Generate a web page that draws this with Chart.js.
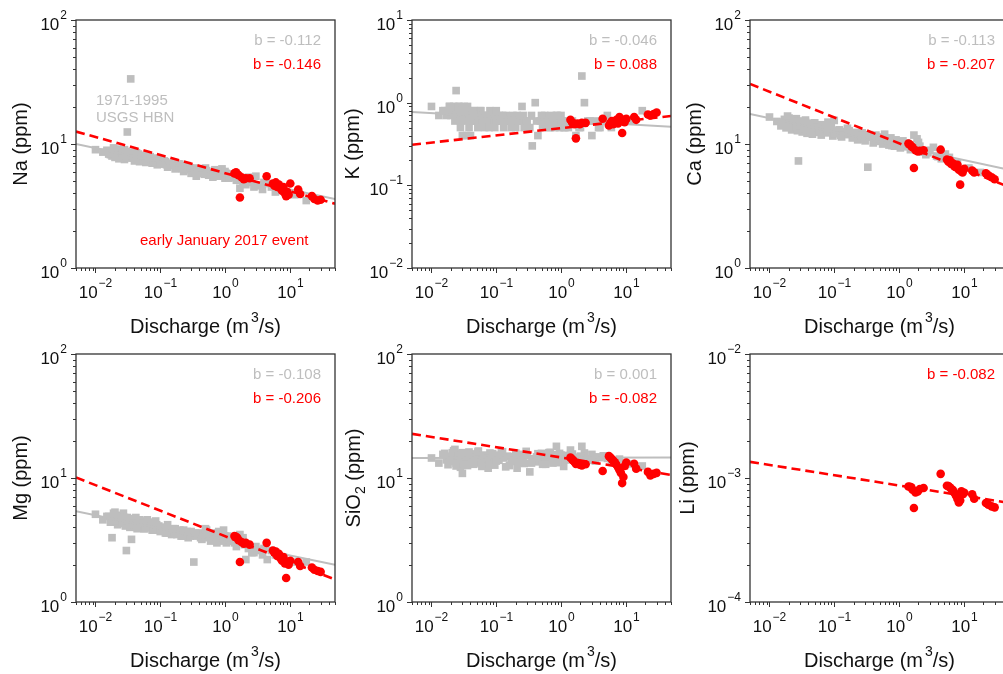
<!DOCTYPE html>
<html>
<head>
<meta charset="utf-8">
<script src="https://cdn.jsdelivr.net/npm/chart.js@4.4.1/dist/chart.umd.min.js"></script>
<style>
html, body { margin: 0; padding: 0; background: #fff; overflow: hidden; }
#wrap { position: relative; width: 1003px; height: 674px; overflow: hidden; }
#wrap canvas { position: absolute; }
</style>
</head>
<body>
<div id="wrap">
  <canvas id="c-na"   width="336" height="340" style="left:0px;top:0px;width:336px;height:340px"></canvas>
  <canvas id="c-k"    width="336" height="340" style="left:336px;top:0px;width:336px;height:340px"></canvas>
  <canvas id="c-ca"   width="336" height="340" style="left:674px;top:0px;width:336px;height:340px"></canvas>
  <canvas id="c-mg"   width="336" height="340" style="left:0px;top:334px;width:336px;height:340px"></canvas>
  <canvas id="c-sio2" width="336" height="340" style="left:336px;top:334px;width:336px;height:340px"></canvas>
  <canvas id="c-li"   width="336" height="340" style="left:674px;top:334px;width:336px;height:340px"></canvas>
</div>
<script>
// --- data -----------------------------------------------------------------

// 1971-1995 USGS HBN samples: discharge (m3/s)
const grayQ = [
  0.010, 0.013, 0.015, 0.017, 0.018, 0.019, 0.020, 0.021, 0.022, 0.023,
  0.024, 0.025, 0.026, 0.027, 0.028, 0.029, 0.030, 0.031, 0.032, 0.034,
  0.035, 0.036, 0.038, 0.040, 0.042, 0.044, 0.046, 0.048, 0.050, 0.053,
  0.056, 0.060, 0.063, 0.066, 0.070, 0.075, 0.080, 0.085, 0.090, 0.095,
  0.10, 0.11, 0.12, 0.13, 0.14, 0.15, 0.17, 0.19, 0.21, 0.23,
  0.25, 0.27, 0.30, 0.33, 0.36, 0.40, 0.44, 0.48, 0.52, 0.56,
  0.60, 0.65, 0.70, 0.75, 0.80, 0.85, 0.90, 0.95, 1.00, 1.05,
  1.10, 1.20, 1.30, 1.50, 1.70, 1.90, 2.10, 2.30, 2.60, 3.00,
  3.40, 3.80, 4.50, 5.20, 6.00, 8.00, 12.0, 18.0,
  // second pass through the dense part of the cloud
  0.016, 0.019, 0.022, 0.024, 0.026, 0.028, 0.030, 0.033, 0.036, 0.039,
  0.043, 0.047, 0.052, 0.058, 0.064, 0.072, 0.078, 0.088, 0.10, 0.115,
  0.125, 0.16, 0.18, 0.20, 0.22, 0.26, 0.29, 0.35, 0.42, 0.50,
  0.58, 0.68, 0.78, 0.88, 1.0, 1.15, 1.4, 2.0, 2.8, 4.0
];
const naGray = [
  9.0, 8.6, 8.9, 8.2, 8.0, 8.7, 7.8, 8.4, 9.1, 7.6,
  8.3, 8.8, 7.9, 8.5, 7.5, 8.1, 8.7, 12.5, 7.7, 8.2,
  33.5, 7.9, 8.4, 7.3, 8.0, 7.6, 8.3, 7.2, 7.8, 7.4,
  8.0, 7.1, 7.6, 7.3, 7.9, 7.0, 7.5, 7.2, 6.8, 7.6,
  7.4, 6.9, 7.2, 6.5, 7.0, 6.7, 6.3, 6.9, 6.4, 6.0,
  6.6, 6.2, 5.8, 6.4, 5.5, 6.0, 6.3, 5.7, 6.1, 5.6,
  5.9, 5.4, 6.2, 5.7, 5.5, 5.9, 6.3, 5.6, 5.3, 5.8,
  5.5, 5.7, 5.4, 5.1, 4.4, 5.0, 4.7, 5.4, 4.9, 5.5,
  4.6, 4.3, 4.8, 4.5, 4.1, 4.2, 3.9, 3.5,
  8.3, 9.3, 8.0, 8.9, 8.4, 9.0, 7.8, 8.6, 8.1, 7.7,
  8.5, 7.5, 8.1, 7.7, 7.2, 7.6, 7.3, 7.7, 6.9, 7.3,
  6.8, 7.1, 6.6, 6.9, 6.3, 6.7, 6.4, 6.1, 5.8, 6.4,
  5.9, 5.7, 6.0, 5.5, 6.0, 5.3, 5.6, 5.2, 4.5, 4.9
];
const kGray = [
  0.9, 0.7, 0.8, 0.7, 0.8, 0.9, 0.7, 0.8, 0.9, 0.6,
  1.4, 0.8, 0.7, 0.9, 0.5, 0.8, 0.4, 0.6, 0.9, 0.7,
  0.4, 0.8, 0.5, 0.4, 0.7, 0.6, 0.8, 0.7, 0.6, 0.7,
  0.8, 0.6, 0.7, 0.5, 0.7, 0.6, 0.8, 0.6, 0.7, 0.5,
  0.6, 0.7, 0.6, 0.5, 0.7, 0.6, 0.5, 0.6, 0.7, 0.6,
  0.9, 0.5, 0.6, 0.5, 0.3, 1.0, 0.4, 0.6, 0.5, 0.7,
  0.6, 0.5, 0.7, 0.6, 0.5, 0.7, 0.6, 0.5, 0.7, 0.6,
  0.5, 0.6, 0.5, 0.6, 0.4, 0.5, 2.1, 1.0, 0.6, 0.4,
  0.6, 0.5, 0.6, 0.7, 0.5, 0.6, 0.6, 0.8,
  0.8, 0.9, 0.8, 0.7, 0.9, 0.6, 0.8, 0.7, 0.9, 0.6,
  0.8, 0.7, 0.5, 0.8, 0.7, 0.6, 0.5, 0.7, 0.8, 0.6,
  0.7, 0.6, 0.7, 0.5, 0.6, 0.7, 0.6, 0.7, 0.6, 0.7,
  0.6, 0.5, 0.6, 0.7, 0.6, 0.5, 0.6, 0.5, 0.6, 0.5
];
const caGray = [
  16.5, 15.2, 14.0, 15.8, 13.5, 14.8, 16.2, 14.2, 13.0, 15.5,
  14.5, 13.8, 16.0, 12.8, 7.3, 14.9, 13.6, 15.3, 12.5, 14.1,
  13.2, 15.0, 12.2, 14.4, 13.0, 14.6, 12.0, 13.7, 14.8, 12.6,
  13.4, 14.2, 11.8, 13.1, 14.0, 12.3, 15.0, 12.9, 13.6, 11.6,
  15.5, 12.1, 13.0, 11.4, 12.6, 11.9, 12.8, 11.2, 12.0, 10.8,
  11.5, 12.3, 10.6, 6.5, 11.4, 10.2, 11.8, 10.5, 11.0, 10.0,
  12.0, 10.7, 9.8, 11.2, 10.3, 9.6, 10.8, 9.9, 10.4, 9.3,
  10.0, 9.5, 10.2, 9.0, 11.8, 11.0, 9.6, 8.6, 8.2, 8.9,
  9.4, 8.0, 7.6, 8.3, 7.8, 7.0, 6.4, 5.9,
  15.0, 16.8, 14.3, 15.9, 13.9, 15.2, 14.0, 13.3, 15.6, 13.9,
  12.9, 14.7, 13.6, 12.4, 14.3, 13.2, 12.7, 13.8, 12.2, 12.9,
  11.7, 13.4, 12.3, 11.3, 12.4, 11.7, 10.9, 11.9, 10.8, 11.4,
  10.1, 10.9, 9.7, 10.5, 9.8, 10.6, 9.6, 10.3, 8.5, 7.9
];
const mgGray = [
  5.1, 4.6, 4.9, 4.4, 3.3, 4.8, 5.3, 4.5, 4.2, 5.0,
  4.7, 4.3, 4.9, 5.2, 4.6, 4.1, 2.6, 4.8, 4.4, 4.0,
  4.7, 3.2, 4.5, 4.2, 4.8, 3.9, 4.4, 4.6, 4.1, 4.5,
  3.9, 4.3, 4.6, 4.0, 4.4, 3.8, 4.2, 4.5, 3.9, 4.1,
  3.7, 4.0, 3.6, 4.2, 3.8, 3.5, 3.9, 3.6, 3.4, 3.8,
  3.5, 3.3, 3.7, 2.1, 3.4, 3.6, 3.2, 3.5, 3.8, 3.3,
  3.1, 3.6, 3.4, 3.0, 3.7, 3.2, 3.5, 3.8, 3.3, 3.0,
  3.4, 3.1, 3.2, 2.8, 3.5, 3.3, 2.2, 2.7, 2.5, 2.8,
  2.6, 2.4, 2.2, 2.6, 2.4, 2.3, 2.1, 2.1,
  4.9, 5.2, 4.5, 4.9, 4.4, 4.8, 4.5, 4.2, 4.6, 4.3,
  4.0, 4.6, 4.3, 3.9, 4.4, 4.1, 3.8, 4.2, 3.8, 4.0,
  3.6, 3.9, 3.5, 3.8, 3.4, 3.7, 3.4, 3.6, 3.3, 3.9,
  3.4, 3.2, 3.6, 3.1, 3.4, 3.2, 3.0, 2.9, 2.5, 2.7
];
const sio2Gray = [
  14.5, 13.2, 15.5, 14.0, 12.8, 15.0, 13.6, 16.0, 14.3, 17.0,
  12.5, 15.2, 13.8, 14.8, 12.2, 15.8, 10.9, 14.1, 13.0, 15.4,
  14.6, 12.6, 16.2, 13.5, 14.9, 12.9, 15.6, 14.0, 13.3, 16.5,
  14.4, 12.4, 15.1, 13.7, 14.7, 12.0, 15.9, 13.4, 14.2, 12.7,
  15.3, 13.9, 16.1, 14.5, 12.3, 15.0, 13.6, 14.8, 12.0, 15.5,
  14.0, 13.1, 15.2, 11.2, 14.3, 13.5, 15.7, 14.1, 12.9, 15.0,
  13.8, 16.0, 14.6, 13.2, 15.4, 18.0, 14.2, 15.8, 13.6, 14.9,
  12.4, 15.2, 14.0, 15.6, 13.4, 14.7, 18.0, 15.9, 14.3, 15.5,
  13.7, 14.8, 15.1, 14.4, 13.8, 14.2, 13.0, 12.5,
  15.8, 13.9, 16.6, 13.1, 15.1, 14.2, 16.0, 12.9, 14.9, 15.7,
  13.4, 14.6, 16.2, 13.0, 15.3, 14.4, 12.8, 15.7, 13.7, 14.9,
  16.3, 12.6, 14.8, 15.9, 13.5, 14.6, 16.4, 13.2, 14.8, 15.8,
  12.9, 16.1, 14.5, 13.3, 15.3, 14.1, 16.8, 15.0, 13.9, 14.6
];

// early January 2017 event samples
const eventQ = [
  1.40, 1.48, 1.55, 1.62, 1.70, 1.80, 1.95, 2.10, 2.40, 4.40,
  5.50, 5.80, 6.10, 6.40, 6.80, 7.20, 7.60, 8.00, 8.40, 8.80,
  9.20, 9.60, 10.2, 13.5, 14.5, 22.0, 24.0, 27.0, 30.0
];
const naEvent = [5.8, 5.9, 5.7, 5.6, 3.7, 5.4, 5.2, 5.3, 5.3, 5.5, 4.8, 4.6, 4.9, 4.5, 4.7, 4.4, 4.2, 4.5, 4.0, 3.8, 4.1, 3.9, 4.8, 4.3, 3.95, 3.8, 3.6, 3.5, 3.55];
const kEvent = [0.62, 0.58, 0.56, 0.55, 0.37, 0.56, 0.55, 0.57, 0.57, 0.64, 0.53, 0.57, 0.60, 0.55, 0.58, 0.62, 0.56, 0.67, 0.60, 0.43, 0.62, 0.58, 0.64, 0.67, 0.62, 0.72, 0.70, 0.73, 0.76];
const caEvent = [10.1, 9.9, 9.6, 9.4, 6.4, 8.9, 8.7, 8.8, 8.9, 9.0, 7.5, 7.2, 7.4, 6.9, 7.0, 6.6, 6.5, 6.8, 6.2, 4.7, 6.0, 5.9, 6.3, 6.1, 5.9, 5.8, 5.6, 5.4, 5.2];
const mgEvent = [3.4, 3.35, 3.3, 3.15, 2.1, 3.05, 2.95, 3.0, 2.9, 3.0, 2.6, 2.5, 2.55, 2.35, 2.45, 2.25, 2.15, 2.3, 2.05, 1.56, 2.1, 2.0, 2.15, 2.1, 1.95, 1.9, 1.82, 1.78, 1.75];
const sio2Event = [14.6, 14.2, 13.8, 13.5, 13.0, 13.2, 12.8, 12.6, 12.9, 11.4, 15.0, 14.6, 14.2, 13.8, 13.4, 12.8, 12.2, 11.6, 11.0, 9.1, 10.2, 12.5, 13.3, 13.0, 11.9, 11.2, 10.5, 10.8, 11.0];
const liEvent = [8.55e-4, 8.5e-4, 8.4e-4, 8.05e-4, 5.73e-4, 7.65e-4, 7.8e-4, 8.15e-4, 8.3e-4, 1.08e-3, 8.67e-4, 8.6e-4, 8.4e-4, 8.2e-4, 8.0e-4, 7.57e-4, 7.2e-4, 6.78e-4, 6.35e-4, 6.6e-4, 7.8e-4, 7.4e-4, 7.6e-4, 7.4e-4, 6.8e-4, 6.28e-4, 6.1e-4, 5.9e-4, 5.8e-4];

// power-law fits, value at each end of the discharge axis
const fitQ = [0.005, 50];
const naGrayFit = [10.0, 3.6],   naEventFit = [12.6, 3.3];
const kGrayFit = [0.77, 0.51],   kEventFit = [0.31, 0.69];
const caGrayFit = [17.5, 6.2],   caEventFit = [30.5, 4.5];
const mgGrayFit = [5.4, 2.0],    mgEventFit = [10.1, 1.52];
const sio2GrayFit = [14.5, 14.6], sio2EventFit = [22.7, 10.6];
const liEventFit = [1.35e-3, 6.3e-4];

// slope labels
const bGray = ['-0.112', '-0.046', '-0.113', '-0.108', '0.001'];
const bEvent = ['-0.146', '0.088', '-0.207', '-0.206', '-0.082', '-0.082'];

// --- drawing ----------------------------------------------------------------

const FONT = '"Liberation Sans", Arial, Helvetica, sans-serif';
const AXIS = '#333333';
const GRAY = '#bebebe';
const RED = '#ff0000';

const pts = (xs, ys) => xs.map((x, i) => ({ x, y: ys[i] }));

function logTicks(min, max) {
  const out = [];
  for (let e = Math.floor(Math.log10(min)); e <= Math.ceil(Math.log10(max)); e++) {
    for (let m = 1; m < 10; m++) {
      const v = m * Math.pow(10, e);
      if (v >= min * 0.999 && v <= max * 1.001) out.push({ v, major: m === 1, e });
    }
  }
  return out;
}

// "10" with a raised exponent; baseY is the baseline of "10"
function powLabel(ctx, exp, x, baseY, align) {
  const es = exp < 0 ? '\u2212' + (-exp) : String(exp);
  ctx.font = '17px ' + FONT;
  const w1 = ctx.measureText('10').width;
  ctx.font = '12px ' + FONT;
  const w2 = ctx.measureText(es).width;
  const total = w1 + 1 + w2;
  const x0 = align === 'center' ? x - total / 2 : x - total;
  ctx.textAlign = 'left';
  ctx.textBaseline = 'alphabetic';
  ctx.font = '17px ' + FONT;
  ctx.fillText('10', x0, baseY);
  ctx.font = '12px ' + FONT;
  ctx.fillText(es, x0 + w1 + 1, baseY - 11);
}

// pieces: [{t, size, dy}] laid out left to right, centred on cx
function richText(ctx, pieces, cx, baseY) {
  let total = 0;
  pieces.forEach(p => { ctx.font = p.size + 'px ' + FONT; p.w = ctx.measureText(p.t).width; total += p.w + (p.gap || 0); });
  let x = cx - total / 2;
  ctx.textAlign = 'left';
  ctx.textBaseline = 'alphabetic';
  pieces.forEach(p => {
    x += p.gap || 0;
    ctx.font = p.size + 'px ' + FONT;
    ctx.fillText(p.t, x, baseY + (p.dy || 0));
    x += p.w;
  });
}

const panelDeco = {
  id: 'panelDeco',
  afterDatasetsDraw(chart, args, o) {
    const { ctx, chartArea: a } = chart;
    const xs = chart.scales.x, ys = chart.scales.y;
    ctx.save();

    // frame
    ctx.strokeStyle = AXIS;
    ctx.lineWidth = 1.3;
    ctx.strokeRect(a.left, a.top, a.right - a.left, a.bottom - a.top);

    // tick marks + labels
    ctx.lineWidth = 1;
    ctx.fillStyle = '#111';
    logTicks(xs.min, xs.max).forEach(t => {
      const px = Math.round(xs.getPixelForValue(t.v)) + 0.5;
      ctx.beginPath();
      ctx.moveTo(px, a.bottom);
      ctx.lineTo(px, a.bottom + (t.major ? 5 : 3));
      ctx.stroke();
      if (t.major) powLabel(ctx, t.e, px, a.bottom + 30, 'center');
    });
    logTicks(ys.min, ys.max).forEach(t => {
      const py = Math.round(ys.getPixelForValue(t.v)) + 0.5;
      ctx.beginPath();
      ctx.moveTo(a.left, py);
      ctx.lineTo(a.left - (t.major ? 5 : 3), py);
      ctx.stroke();
      if (t.major) powLabel(ctx, t.e, a.left - 9, py + 9, 'right');
    });

    // x title
    ctx.fillStyle = '#111';
    richText(ctx, [
      { t: 'Discharge (m', size: 20 },
      { t: '3', size: 14, dy: -11, gap: 2 },
      { t: '/s)', size: 20 }
    ], (a.left + a.right) / 2, a.bottom + 65);

    // y title (rotated)
    ctx.save();
    ctx.translate(a.left - o.yTitleOffset, (a.top + a.bottom) / 2);
    ctx.rotate(-Math.PI / 2);
    richText(ctx, o.yTitle, 0, 0);
    ctx.restore();

    // annotations
    o.notes.forEach(n => {
      ctx.fillStyle = n.color;
      ctx.font = '15px ' + FONT;
      ctx.textBaseline = 'middle';
      if (n.right != null) {
        ctx.textAlign = 'right';
        ctx.fillText(n.t, a.right - n.right, a.top + n.top);
      } else {
        ctx.textAlign = 'left';
        ctx.fillText(n.t, a.left + n.left, a.top + n.top);
      }
    });
    ctx.restore();
  }
};

function makePanel(id, cfg) {
  const datasets = [];
  if (cfg.grayVals) {
    datasets.push({
      data: pts(grayQ, cfg.grayVals), pointStyle: 'rect', pointRadius: 5.4,
      backgroundColor: GRAY, borderWidth: 0, order: 4
    });
    datasets.push({
      data: pts(fitQ, cfg.grayFit), showLine: true, pointRadius: 0,
      borderColor: GRAY, borderWidth: 2, order: 3
    });
  }
  datasets.push({
    data: pts(fitQ, cfg.eventFit), showLine: true, pointRadius: 0,
    borderColor: RED, borderWidth: 2.6, borderDash: [9, 5], order: 2
  });
  datasets.push({
    data: pts(eventQ, cfg.eventVals), pointStyle: 'circle', pointRadius: 4.3,
    backgroundColor: RED, borderWidth: 0, order: 1
  });

  const notes = [];
  if (cfg.bGray) notes.push({ t: 'b = ' + cfg.bGray, color: GRAY, right: 14, top: 21 });
  notes.push({ t: 'b = ' + cfg.bEvent, color: RED, right: 14, top: cfg.bGray ? 44.5 : 21 });
  (cfg.extra || []).forEach(n => notes.push(n));

  new Chart(document.getElementById(id), {
    type: 'scatter',
    data: { datasets },
    options: {
      responsive: false,
      animation: false,
      events: [],
      layout: { padding: { left: 76, top: 20, right: 1, bottom: 72 }, autoPadding: false },
      scales: {
        x: { type: 'logarithmic', min: 0.005, max: 50, display: false },
        y: { type: 'logarithmic', min: cfg.yMin, max: cfg.yMax, display: false }
      },
      plugins: {
        legend: { display: false },
        tooltip: { enabled: false },
        panelDeco: { yTitle: cfg.yTitle, yTitleOffset: cfg.yTitleOffset || 49, notes }
      }
    },
    plugins: [panelDeco]
  });
}

const ppm = t => [{ t: t + ' (ppm)', size: 20 }];

makePanel('c-na', {
  yMin: 1, yMax: 100, yTitle: ppm('Na'),
  grayVals: naGray, grayFit: naGrayFit, eventVals: naEvent, eventFit: naEventFit,
  bGray: bGray[0], bEvent: bEvent[0],
  extra: [
    { t: '1971-1995', color: GRAY, left: 20, top: 81 },
    { t: 'USGS HBN', color: GRAY, left: 20, top: 98 },
    { t: 'early January 2017 event', color: RED, left: 64, top: 221 }
  ]
});
makePanel('c-k', {
  yMin: 0.01, yMax: 10, yTitle: ppm('K'), yTitleOffset: 53,
  grayVals: kGray, grayFit: kGrayFit, eventVals: kEvent, eventFit: kEventFit,
  bGray: bGray[1], bEvent: bEvent[1]
});
makePanel('c-ca', {
  yMin: 1, yMax: 100, yTitle: ppm('Ca'),
  grayVals: caGray, grayFit: caGrayFit, eventVals: caEvent, eventFit: caEventFit,
  bGray: bGray[2], bEvent: bEvent[2]
});
makePanel('c-mg', {
  yMin: 1, yMax: 100, yTitle: ppm('Mg'),
  grayVals: mgGray, grayFit: mgGrayFit, eventVals: mgEvent, eventFit: mgEventFit,
  bGray: bGray[3], bEvent: bEvent[3]
});
makePanel('c-sio2', {
  yMin: 1, yMax: 100, yTitleOffset: 52,
  yTitle: [{ t: 'SiO', size: 20 }, { t: '2', size: 14, dy: 5 }, { t: ' (ppm)', size: 20 }],
  grayVals: sio2Gray, grayFit: sio2GrayFit, eventVals: sio2Event, eventFit: sio2EventFit,
  bGray: bGray[4], bEvent: bEvent[4]
});
makePanel('c-li', {
  yMin: 1e-4, yMax: 1e-2, yTitle: ppm('Li'), yTitleOffset: 56,
  eventVals: liEvent, eventFit: liEventFit,
  bEvent: bEvent[5]
});
</script>
</body>
</html>
